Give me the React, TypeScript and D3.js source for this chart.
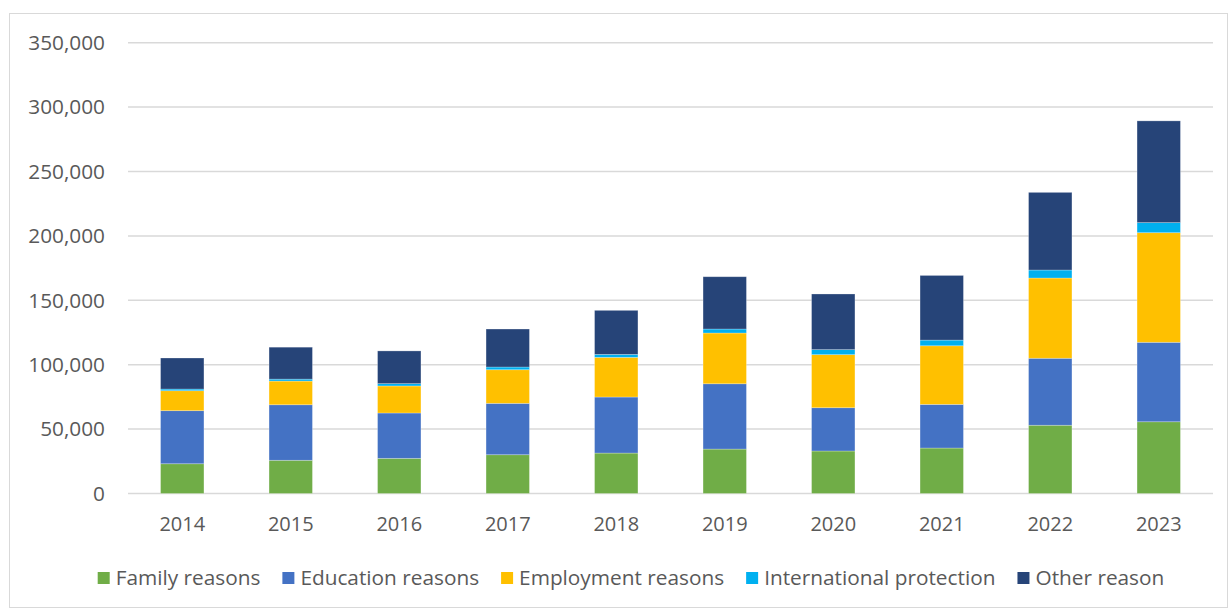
import React, { useEffect, useRef, useState } from "react";
import * as d3 from "d3";

const years = ["2014", "2015", "2016", "2017", "2018", "2019", "2020", "2021", "2022", "2023"];
const seriesNames = ["Family reasons", "Education reasons", "Employment reasons", "International protection", "Other reason"];
const seriesColors = ["#70AD47", "#4472C4", "#FFC000", "#00B0F0", "#264478"];
const family = [23100, 25800, 27300, 30100, 31400, 34500, 33000, 35300, 53000, 55700];
const education = [41200, 43100, 35200, 39900, 43500, 50700, 33600, 33900, 52000, 61700];
const employment = [15500, 18400, 21000, 26100, 30800, 39400, 41200, 45500, 62300, 85100];
const protection = [1300, 1500, 1800, 2100, 2300, 3100, 3900, 4400, 6200, 7800];
const other = [24100, 24800, 25400, 29500, 34200, 40600, 43200, 50200, 60300, 79000];
const yTicks = [0, 50000, 100000, 150000, 200000, 250000, 300000, 350000];

const W = 1230;
const H = 610;
const left = 128;
const right = 1213;
const top = 42.7;
const bottom = 493.5;
const FONT = "'Open Sans', 'Noto Sans', sans-serif";

export default function App() {
  const values = [family, education, employment, protection, other];
  const x = d3.scaleBand<string>().domain(years).range([left, right]).paddingInner(0.6).paddingOuter(0.3);
  const y = d3.scaleLinear().domain([0, 350000]).range([bottom, top]);
  const table = years.map((yr, i) => {
    const row: any = { year: yr };
    seriesNames.forEach((s, k) => (row[s] = values[k][i]));
    return row;
  });
  const stacked = d3.stack<any>().keys(seriesNames)(table);
  const fmt = d3.format(",");

  const legendRef = useRef<SVGGElement>(null);
  const [widths, setWidths] = useState<number[] | null>(null);
  useEffect(() => {
    if (!legendRef.current) return;
    const texts = legendRef.current.querySelectorAll("text");
    const w: number[] = [];
    texts.forEach((t) => w.push((t as SVGTextElement).getComputedTextLength()));
    setWidths(w);
  }, []);

  const sq = 12;
  const gapText = 6;
  const gapItem = 22;
  let legendItems: { x: number }[] = [];
  if (widths) {
    const total = widths.reduce((a, b) => a + sq + gapText + b, 0) + gapItem * (widths.length - 1);
    let cx = 631 - total / 2;
    legendItems = widths.map((w) => {
      const it = { x: cx };
      cx += sq + gapText + w + gapItem;
      return it;
    });
  }
  const legendY = 578;

  return (
    <svg width={W} height={H} style={{ position: "absolute", left: 0, top: 0, background: "#fff" }} fontFamily={FONT}>
      <rect x={9.5} y={13.5} width={1218} height={594} fill="#fff" stroke="#D9D9D9" strokeWidth={1} />
      {yTicks.map((t) => (
        <g key={t}>
          <line x1={left} x2={right} y1={y(t)} y2={y(t)} stroke="#D9D9D9" strokeWidth={1.5} />
          <text x={105} y={y(t)} dy="0.35em" textAnchor="end" fontSize={20.8} fill="#595959">
            {fmt(t)}
          </text>
        </g>
      ))}
      {stacked.map((layer, k) => (
        <g key={layer.key} fill={seriesColors[k]}>
          {layer.map((d, i) => (
            <rect
              key={i}
              x={x(years[i])!}
              y={y(d[1])}
              width={x.bandwidth()}
              height={y(d[0]) - y(d[1])}
              stroke="#ffffff"
              strokeOpacity={0.35}
              strokeWidth={0.75}
            />
          ))}
        </g>
      ))}
      {years.map((yr) => (
        <text key={yr} x={x(yr)! + x.bandwidth() / 2} y={524} dy="0.35em" textAnchor="middle" fontSize={20} fill="#595959">
          {yr}
        </text>
      ))}
      <g ref={legendRef}>
        {seriesNames.map((s, k) => {
          const lx = legendItems[k] ? legendItems[k].x : 0;
          return (
            <g key={s} opacity={widths ? 1 : 0}>
              <rect x={lx} y={legendY - sq / 2} width={sq} height={sq} fill={seriesColors[k]} />
              <text x={lx + sq + gapText} y={legendY} dy="0.35em" fontSize={20.8} fill="#595959">
                {s}
              </text>
            </g>
          );
        })}
      </g>
    </svg>
  );
}
